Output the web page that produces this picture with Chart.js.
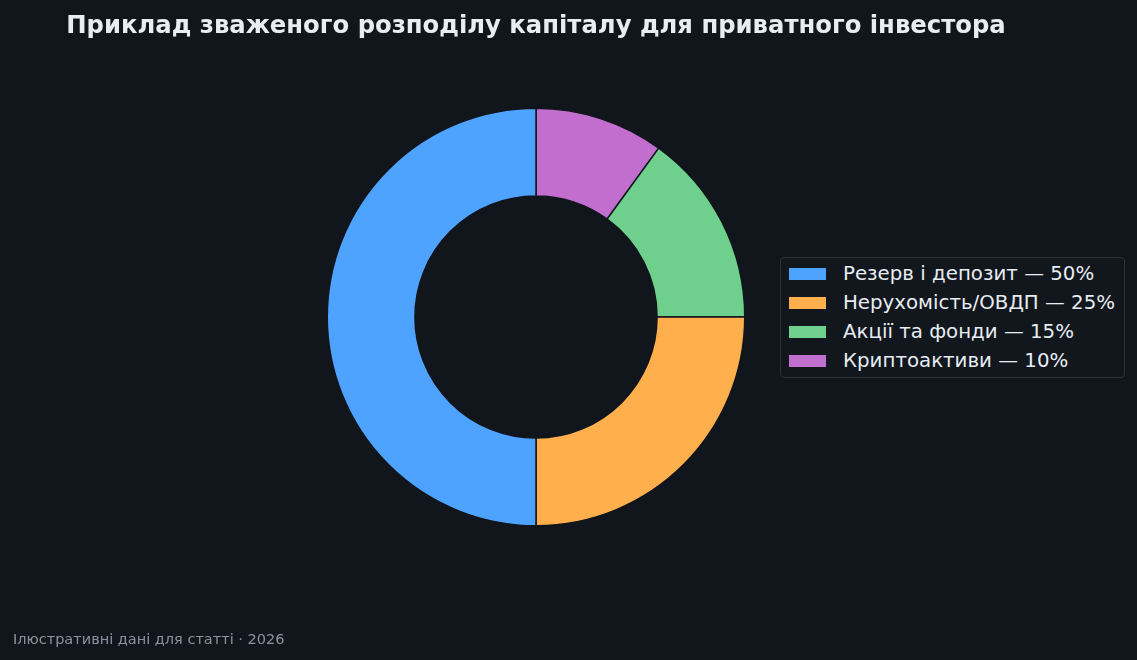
<!DOCTYPE html>
<html lang="uk">
<head>
<meta charset="utf-8">
<script src="https://cdn.jsdelivr.net/npm/chart.js@4.4.1/dist/chart.umd.min.js"></script>
<style>
  html, body { margin: 0; padding: 0; background: #11151c; }
  #wrap { position: relative; width: 1137px; height: 660px; overflow: hidden; font-family: "DejaVu Sans", sans-serif; }
  #chart { position: absolute; left: 0; top: 0; }
  #title {
    position: absolute; left: 0; width: 1072px; top: 10.5px; line-height: 28px;
    text-align: center; color: #e6edf3; font-size: 24.3px; font-weight: bold; white-space: nowrap;
  }
  #legend {
    position: absolute; left: 780px; top: 257px; width: 345px; height: 121px;
    border: 1px solid #2b323c; border-radius: 4px; background: #12161d; box-sizing: border-box;
  }
  .row { position: absolute; left: 8px; height: 29px; display: flex; align-items: center; }
  .patch { width: 37px; height: 12px; margin-right: 17px; }
  .lbl { color: #e6edf3; font-size: 19.8px; white-space: nowrap; }
  #note { position: absolute; left: 13px; top: 630.5px; line-height: 17px; color: #8b949e; font-size: 14.5px; }
</style>
</head>
<body>
<div id="wrap">
  <canvas id="chart" width="1137" height="660"></canvas>
  <div id="title"></div>
  <div id="legend"></div>
  <div id="note">Ілюстративні дані для статті · 2026</div>
</div>
<script>
// Дані розподілу капіталу
const categories = ['Резерв і депозит', 'Нерухомість/ОВДП', 'Акції та фонди', 'Криптоактиви'];
const shares = [50, 25, 15, 10];
const colors = ['#4da3ff', '#ffb04d', '#6fcf8c', '#c26ecf'];
const titleText = 'Приклад зваженого розподілу капіталу для приватного інвестора';

// легенда (HTML)
function buildLegend() {
    const box = document.getElementById('legend');
    categories.forEach((name, i) => {
        const row = document.createElement('div');
        row.className = 'row';
        row.style.top = (1 + i * 29) + 'px';
        const p = document.createElement('div');
        p.className = 'patch';
        p.style.background = colors[i];
        const t = document.createElement('span');
        t.className = 'lbl';
        t.textContent = name + ' — ' + shares[i] + '%';
        row.appendChild(p);
        row.appendChild(t);
        box.appendChild(row);
    });
}

// кільцева діаграма: у Chart.js сектори йдуть за годинниковою стрілкою,
// тому порядок розвернуто, щоб перший сектор ішов проти годинникової
function createDoughnut() {
    const ctx = document.getElementById('chart');
    const rev = (a) => a.slice().reverse();
    new Chart(ctx, {
        type: 'doughnut',
        data: {
            labels: rev(categories),
            datasets: [{
                data: rev(shares),
                backgroundColor: rev(colors),
                borderColor: '#11151c',
                borderWidth: 1.5,
                borderAlign: 'center'
            }]
        },
        options: {
            responsive: false,
            animation: false,
            cutout: '58%',
            layout: { padding: { left: 326.5, right: 391.5, top: 107.5, bottom: 133.5 } },
            plugins: {
                legend: { display: false },
                tooltip: { enabled: false },
                title: { display: false }
            }
        }
    });
}

document.getElementById('title').textContent = titleText;
buildLegend();
createDoughnut();
</script>
</body>
</html>
